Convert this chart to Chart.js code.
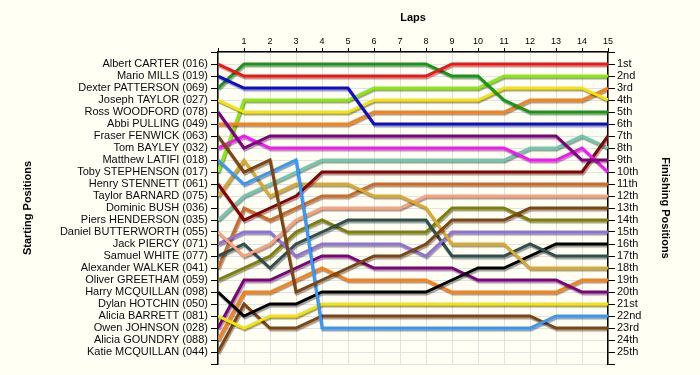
<!DOCTYPE html>
<html>
<head>
<meta charset="utf-8">
<script src="https://cdn.jsdelivr.net/npm/chart.js@4.4.0/dist/chart.umd.min.js"></script>
<style>
html,body{margin:0;padding:0;background:#fffff4;}
canvas{display:block;background:#fffff4;}
</style>
</head>
<body>
<canvas id="c" width="700" height="375"></canvas>
<script>
// ---- data ----
const laps = [0,1,2,3,4,5,6,7,8,9,10,11,12,13,14,15];
const lapLabels = ['1','2','3','4','5','6','7','8','9','10','11','12','13','14','15'];
const startingGrid = [
  'Albert CARTER (016)','Mario MILLS (019)','Dexter PATTERSON (069)','Joseph TAYLOR (027)',
  'Ross WOODFORD (078)','Abbi PULLING (049)','Fraser FENWICK (063)','Tom BAYLEY (032)',
  'Matthew LATIFI (018)','Toby STEPHENSON (017)','Henry STENNETT (061)','Taylor BARNARD (075)',
  'Dominic BUSH (036)','Piers HENDERSON (035)','Daniel BUTTERWORTH (055)','Jack PIERCY (071)',
  'Samuel WHITE (077)','Alexander WALKER (041)','Oliver GREETHAM (059)','Harry MCQUILLAN (098)',
  'Dylan HOTCHIN (050)','Alicia BARRETT (081)','Owen JOHNSON (028)','Alicia GOUNDRY (088)',
  'Katie MCQUILLAN (044)'
];
const finishLabels = ['1st','2nd','3rd','4th','5th','6th','7th','8th','9th','10th','11th','12th',
  '13th','14th','15th','16th','17th','18th','19th','20th','21st','22nd','23rd','24th','25th'];

const albertCarter     = [1,2,2,2,2,2,2,2,2,1,1,1,1,1,1,1];
const marioMills       = [2,3,3,3,3,3,6,6,6,6,6,6,6,6,6,6];
const dexterPatterson  = [3,1,1,1,1,1,1,1,1,2,2,4,5,5,5,5];
const josephTaylor     = [4,5,5,5,5,5,4,4,4,4,4,3,3,3,3,4];
const rossWoodford     = [5,8,7,7,7,7,7,7,7,7,7,7,7,7,9,9];
const abbiPulling      = [6,6,6,6,6,6,5,5,5,5,5,5,4,4,4,3];
const fraserFenwick    = [7,10,9,20,19,18,17,17,16,14,14,14,13,13,13,13];
const tomBayley        = [8,7,8,8,8,8,8,8,8,8,8,8,9,9,8,10];
const matthewLatifi    = [9,11,10,9,23,23,23,23,23,23,23,23,23,22,22,22];
const tobyStephenson   = [10,4,4,4,4,4,3,3,3,3,3,2,2,2,2,2];
const henryStennett    = [11,14,13,12,10,10,10,10,10,10,10,10,10,10,10,7];
const taylorBarnard    = [12,9,12,11,11,11,12,12,13,16,16,16,18,18,18,18];
const piersHenderson   = [14,12,11,10,9,9,9,9,9,9,9,9,8,8,7,8];
const danielButterworth= [15,17,16,14,13,13,13,13,12,12,12,12,12,12,12,12];
const jackPiercy       = [16,15,15,17,16,16,16,16,17,15,15,15,15,15,15,15];
const samuelWhite      = [17,16,18,16,15,14,14,14,14,17,17,17,16,17,17,17];
const alexanderWalker  = [18,13,14,13,12,12,11,11,11,11,11,11,11,11,11,11];
const oliverGreetham   = [19,18,17,15,14,15,15,15,15,13,13,13,14,14,14,14];
const harryMcquillan   = [20,22,21,21,20,20,20,20,20,19,18,18,17,16,16,16];
const aliciaBarrett    = [22,23,22,22,21,21,21,21,21,21,21,21,21,21,21,21];
const owenJohnson      = [23,19,19,18,17,17,18,18,18,18,19,19,19,19,20,20];
const aliciaGoundry    = [24,20,20,19,18,19,19,19,19,20,20,20,20,20,19,19];
const katieMcquillan   = [25,21,23,23,22,22,22,22,22,22,22,22,22,23,23,23];

const series = [
  ['Albert CARTER (016)', albertCarter, '#ff1010'],
  ['Mario MILLS (019)', marioMills, '#0c0cd0'],
  ['Dexter PATTERSON (069)', dexterPatterson, '#139a13'],
  ['Joseph TAYLOR (027)', josephTaylor, '#f7e400'],
  ['Ross WOODFORD (078)', rossWoodford, '#800080'],
  ['Abbi PULLING (049)', abbiPulling, '#ff8010'],
  ['Fraser FENWICK (063)', fraserFenwick, '#7f4510'],
  ['Tom BAYLEY (032)', tomBayley, '#ff10ff'],
  ['Matthew LATIFI (018)', matthewLatifi, '#3399ff'],
  ['Toby STEPHENSON (017)', tobyStephenson, '#88ee00'],
  ['Henry STENNETT (061)', henryStennett, '#8b0000'],
  ['Taylor BARNARD (075)', taylorBarnard, '#dcaa28'],
  ['Piers HENDERSON (035)', piersHenderson, '#6ccaae'],
  ['Daniel BUTTERWORTH (055)', danielButterworth, '#ffa07a'],
  ['Jack PIERCY (071)', jackPiercy, '#9370db'],
  ['Samuel WHITE (077)', samuelWhite, '#2f4f4f'],
  ['Alexander WALKER (041)', alexanderWalker, '#d2691e'],
  ['Oliver GREETHAM (059)', oliverGreetham, '#808000'],
  ['Harry MCQUILLAN (098)', harryMcquillan, '#000000'],
  ['Alicia BARRETT (081)', aliciaBarrett, '#f7e400'],
  ['Owen JOHNSON (028)', owenJohnson, '#800080'],
  ['Alicia GOUNDRY (088)', aliciaGoundry, '#ff8010'],
  ['Katie MCQUILLAN (044)', katieMcquillan, '#7f4510']
];

// ---- chart ----
const FAMILY = '"Liberation Sans", Arial, sans-serif';
const GRID = '#e2e2e2';
const posTicks = Array.from({length: 27}, (_, i) => ({value: i}));
const lapTicks = laps.map(v => ({value: v}));

const shadowPlugin = {
  id: 'shadow',
  beforeDatasetsDraw(chart) {
    const c = chart.ctx;
    c.save();
    c.shadowColor = 'rgba(0,0,0,0.38)';
    c.shadowOffsetX = 1;
    c.shadowOffsetY = 2;
    c.shadowBlur = 1;
  },
  afterDatasetsDraw(chart) { chart.ctx.restore(); }
};

new Chart(document.getElementById('c'), {
  type: 'line',
  data: {
    datasets: series.map(([name, pos, color]) => ({
      label: name,
      data: pos.map((p, i) => ({x: laps[i], y: p})),
      borderColor: color,
      backgroundColor: color,
      borderWidth: 3,
      pointRadius: 0,
      tension: 0,
      fill: false,
      borderJoinStyle: 'miter',
      yAxisID: 'y'
    }))
  },
  options: {
    responsive: false,
    animation: false,
    devicePixelRatio: 1,
    layout: {padding: {top: 0, bottom: 11, left: 0, right: 0}},
    plugins: {legend: {display: false}, tooltip: {enabled: false}},
    scales: {
      x: {
        type: 'linear', position: 'top', min: 0, max: 15,
        afterBuildTicks: s => { s.ticks = lapTicks.map(t => ({value: t.value})); },
        ticks: {autoSkip: false, maxRotation: 0, padding: 1, color: '#000',
          font: {size: 9, family: FAMILY},
          callback: v => v === 0 ? '' : lapLabels[v - 1]},
        grid: {color: GRID, tickLength: 4, tickColor: '#000', lineWidth: 1},
        border: {color: '#000', width: 1.5},
        title: {display: true, text: 'Laps', color: '#000',
          font: {size: 11, weight: 'bold', family: FAMILY}, padding: {top: 11, bottom: 0}},
        afterFit: s => { s.height = 52; }
      },
      y: {
        type: 'linear', position: 'left', reverse: true, min: 0, max: 26,
        afterBuildTicks: s => { s.ticks = posTicks.map(t => ({value: t.value})); },
        ticks: {autoSkip: false, padding: 3, color: '#0a0a14',
          font: {size: 11, family: FAMILY},
          callback: v => startingGrid[v - 1] ?? ''},
        grid: {color: GRID, tickLength: 7, tickColor: '#000', lineWidth: 1},
        border: {color: '#000', width: 1.5},
        title: {display: true, text: 'Starting Positions', color: '#000',
          font: {size: 11, weight: 'bold', family: FAMILY}, padding: {top: 21, bottom: 0}},
        afterFit: s => { s.width = 218; }
      },
      y2: {
        type: 'linear', position: 'right', reverse: true, min: 0, max: 26,
        afterBuildTicks: s => { s.ticks = posTicks.map(t => ({value: t.value})); },
        ticks: {autoSkip: false, padding: 2, color: '#0a0a14',
          font: {size: 11, family: FAMILY},
          callback: v => finishLabels[v - 1] ?? ''},
        grid: {drawOnChartArea: false, tickLength: 7, tickColor: '#000'},
        border: {color: '#000', width: 1.5},
        title: {display: true, text: 'Finishing Positions', color: '#000',
          font: {size: 11, weight: 'bold', family: FAMILY}, padding: {top: 28, bottom: 0}},
        afterFit: s => { s.width = 92; }
      }
    }
  },
  plugins: [shadowPlugin]
});
</script>
</body>
</html>
